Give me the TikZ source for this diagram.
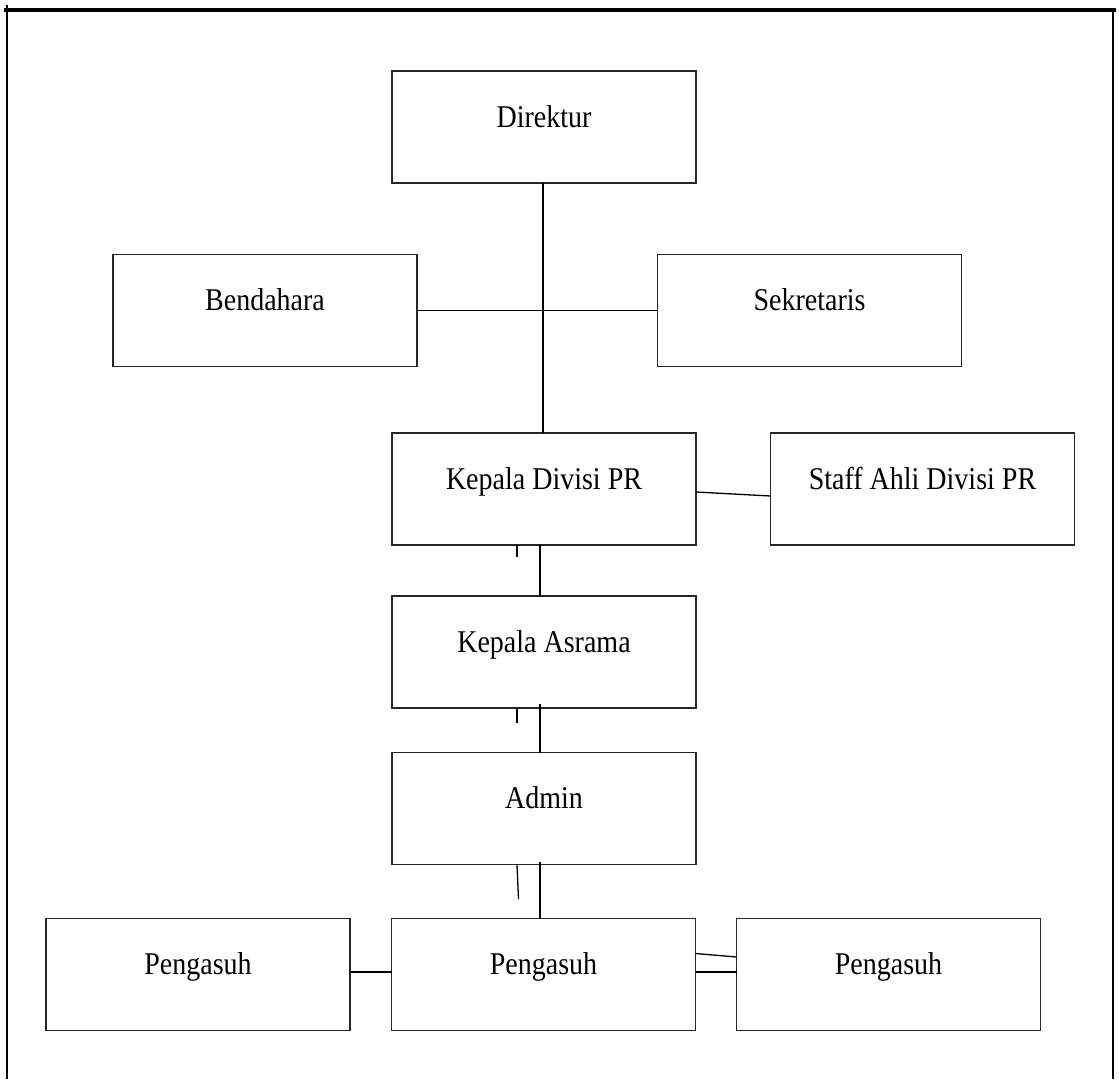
\documentclass[tikz,border=0pt]{standalone}
\usepackage{fontspec}
\setmainfont{Liberation Serif}
\usetikzlibrary{calc}
\newcommand{\vstr}[1]{\scalebox{1}[1.13]{#1}}
\begin{document}
\begin{tikzpicture}[x=1pt,y=-1pt,
  orgbox/.style={draw=black!85, line width=1.6pt, rectangle, minimum width=304pt, minimum height=112pt,
    inner sep=0pt, outer sep=0pt, font=\fontsize{28}{34}\selectfont, text height=10pt, text depth=10pt},
  conn/.style={draw=black, line width=1.3pt},
  frame/.style={draw=black, line width=2.8pt}]
\useasboundingbox (0,0) rectangle (1119,1079);
% frame
\draw[frame, line width=4.2pt] (4,10) -- (1116,10);
\draw[frame] (7,5) -- (7,1079);
\draw[frame] (1113,10) -- (1113,1079);
% boxes
\node[orgbox] (dir)   at (544,127)   {\vstr{Direktur}};
\node[orgbox] (ben)   at (265,310.5) {\vstr{Bendahara}};
\node[orgbox] (sek)   at (809.5,310.5) {\vstr{Sekretaris}};
\node[orgbox] (kdiv)  at (544,489)   {\vstr{Kepala Divisi PR}};
\node[orgbox] (staff) at (922.5,489) {\vstr{Staff Ahli Divisi PR}};
\node[orgbox] (asr)   at (544,652)   {\vstr{Kepala Asrama}};
\node[orgbox] (adm)   at (544,808.5) {\vstr{Admin}};
\node[orgbox] (p1)    at (198,974.5) {\vstr{Pengasuh}};
\node[orgbox] (p2)    at (543.5,974.5) {\vstr{Pengasuh}};
\node[orgbox] (p3)    at (888.5,974.5) {\vstr{Pengasuh}};
% connectors
\draw[conn] ($(dir.south)+(-1,0)$) -- ($(kdiv.north)+(-1,0)$);
\draw[conn] (ben.east) -- (sek.west);
\draw[conn] ($(kdiv.east)+(0,3)$) -- ($(staff.west)+(0,7)$);
\draw[conn] ($(kdiv.south)+(-4,0)$) -- ($(asr.north)+(-4,0)$);
\coordinate (t1) at (517,557);
\draw[conn] (kdiv.south -| t1) -- (t1);
\draw[conn] ($(asr.south)+(-4,-4)$) -- ($(adm.north)+(-4,0)$);
\coordinate (t2) at (517,723);
\draw[conn] (asr.south -| t2) -- (t2);
\draw[conn] ($(adm.south)+(-4,-3)$) -- ($(p2.north)+(-3.5,0)$);
\coordinate (t3a) at (517,865);
\coordinate (t3b) at (518.5,899);
\draw[conn] (t3a) -- (t3b);
\draw[conn] ($(p1.east)+(0,-2.5)$) -- ($(p2.west)+(0,-2.5)$);
\draw[conn] ($(p2.east)+(0,-21)$) -- ($(p3.west)+(0,-17.5)$);
\draw[conn] ($(p2.east)+(0,-2.5)$) -- ($(p3.west)+(0,-2.5)$);
\end{tikzpicture}
\end{document}
